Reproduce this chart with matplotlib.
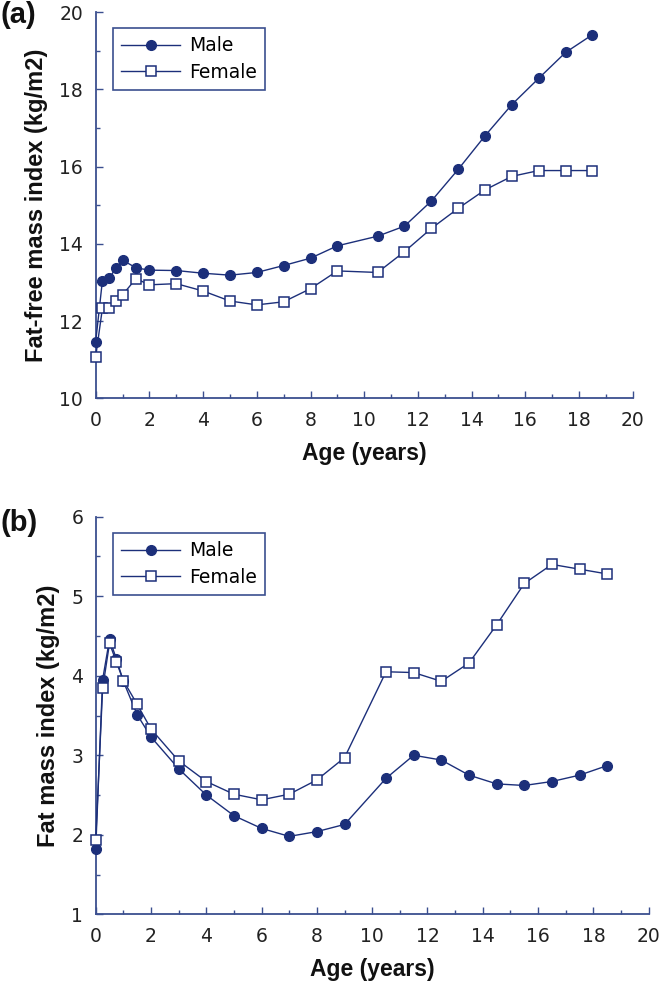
import matplotlib
matplotlib.use("Agg")
import matplotlib.pyplot as plt
from matplotlib.ticker import MultipleLocator

plt.rcParams['font.family'] = ['Liberation Sans', 'DejaVu Sans']

ages = [0, 0.25, 0.5, 0.75, 1, 1.5, 2, 3, 4, 5, 6, 7, 8, 9, 10.5, 11.5, 12.5, 13.5, 14.5, 15.5, 16.5, 17.5, 18.5]

ffmi_male = [11.47, 13.05, 13.11, 13.37, 13.58, 13.38, 13.32, 13.31, 13.24, 13.19, 13.26, 13.44, 13.63,
             13.95, 14.2, 14.46, 15.11, 15.93, 16.8, 17.61, 18.29, 18.96, 19.42]
ffmi_female = [11.08, 12.33, 12.33, 12.52, 12.68, 13.1, 12.94, 12.97, 12.78, 12.52, 12.42, 12.5, 12.84,
               13.3, 13.26, 13.8, 14.4, 14.92, 15.4, 15.75, 15.9, 15.9, 15.9]

fmi_male = [1.82, 3.95, 4.46, 4.21, 3.93, 3.51, 3.23, 2.83, 2.5, 2.24, 2.08, 1.98, 2.04, 2.13,
            2.71, 3.0, 2.94, 2.75, 2.64, 2.62, 2.67, 2.75, 2.87]
fmi_female = [1.93, 3.84, 4.41, 4.17, 3.94, 3.64, 3.33, 2.93, 2.67, 2.51, 2.44, 2.51, 2.69, 2.97,
              4.05, 4.04, 3.93, 4.16, 4.64, 5.16, 5.40, 5.34, 5.28]

navy = '#1c2f7a'
axis_col = '#3b4f8f'
W, H = 661, 983

fig = plt.figure(figsize=(W / 100, H / 100), dpi=100)

def make_ax(px, ymin, ymax, ymaj, ymin_step, ylabel, male, female, panel, panel_top, legend_px):
    left, right, top, bottom = px
    ax = fig.add_axes([left / W, 1 - bottom / H, (right - left) / W, (bottom - top) / H])
    ax.plot(ages, male, color=navy, lw=1.0, marker='o', ms=7, mfc=navy, mec=navy, label='Male',
            zorder=3, clip_on=False)
    ax.plot(ages, female, color=navy, lw=1.0, marker='s', ms=6.5, mfc='white', mec=navy, mew=1.1,
            label='Female', zorder=3, clip_on=False)
    ax.set_xlim(0, 20)
    ax.set_ylim(ymin, ymax)
    ax.xaxis.set_major_locator(MultipleLocator(2))
    ax.xaxis.set_minor_locator(MultipleLocator(1))
    ax.yaxis.set_major_locator(MultipleLocator(ymaj))
    ax.yaxis.set_minor_locator(MultipleLocator(ymin_step))
    for s in ['top', 'right']:
        ax.spines[s].set_visible(False)
    for s in ['left', 'bottom']:
        ax.spines[s].set_color(axis_col)
        ax.spines[s].set_linewidth(1.3)
    ax.tick_params(which='both', direction='in', colors=axis_col, labelcolor='#222222')
    ax.tick_params(which='major', length=5, width=1.0, pad=9)
    ax.tick_params(which='minor', length=3, width=1.0)
    for lab in ax.get_xticklabels() + ax.get_yticklabels():
        lab.set_fontfamily('DejaVu Sans')
        lab.set_fontsize(13.5)
    ax.set_xlabel('Age (years)', fontsize=16.5, fontweight='bold', color='#111111', labelpad=9)
    ax.set_ylabel(ylabel, fontsize=17, fontweight='bold', color='#111111', labelpad=8)
    leg = ax.legend(loc='upper left', bbox_to_anchor=(legend_px[0] / W, 1 - legend_px[1] / H),
                    bbox_transform=fig.transFigure, borderaxespad=0,
                    prop={'family': 'DejaVu Sans', 'size': 13.5}, frameon=True,
                    fancybox=False, edgecolor=axis_col, handlelength=3.1, borderpad=0.45,
                    labelspacing=0.4, handletextpad=0.5)
    leg.get_frame().set_linewidth(1.2)
    leg.get_frame().set_alpha(None)
    fig.text(0.0, 1 - panel_top / H, panel, fontsize=21, fontweight='bold', va='top', ha='left',
             color='#111111')
    return ax

ax1 = make_ax((95.7, 632.7, 12.3, 398.3), 10, 20, 2, 1,
              'Fat-free mass index (kg/m2)', ffmi_male, ffmi_female, '(a)', 1, (113, 28))
ax2 = make_ax((95.7, 648.7, 516.7, 914.3), 1, 6, 1, 0.5,
              'Fat mass index (kg/m2)', fmi_male, fmi_female, '(b)', 509, (113, 533))

fig.savefig('out.png', dpi=100)
